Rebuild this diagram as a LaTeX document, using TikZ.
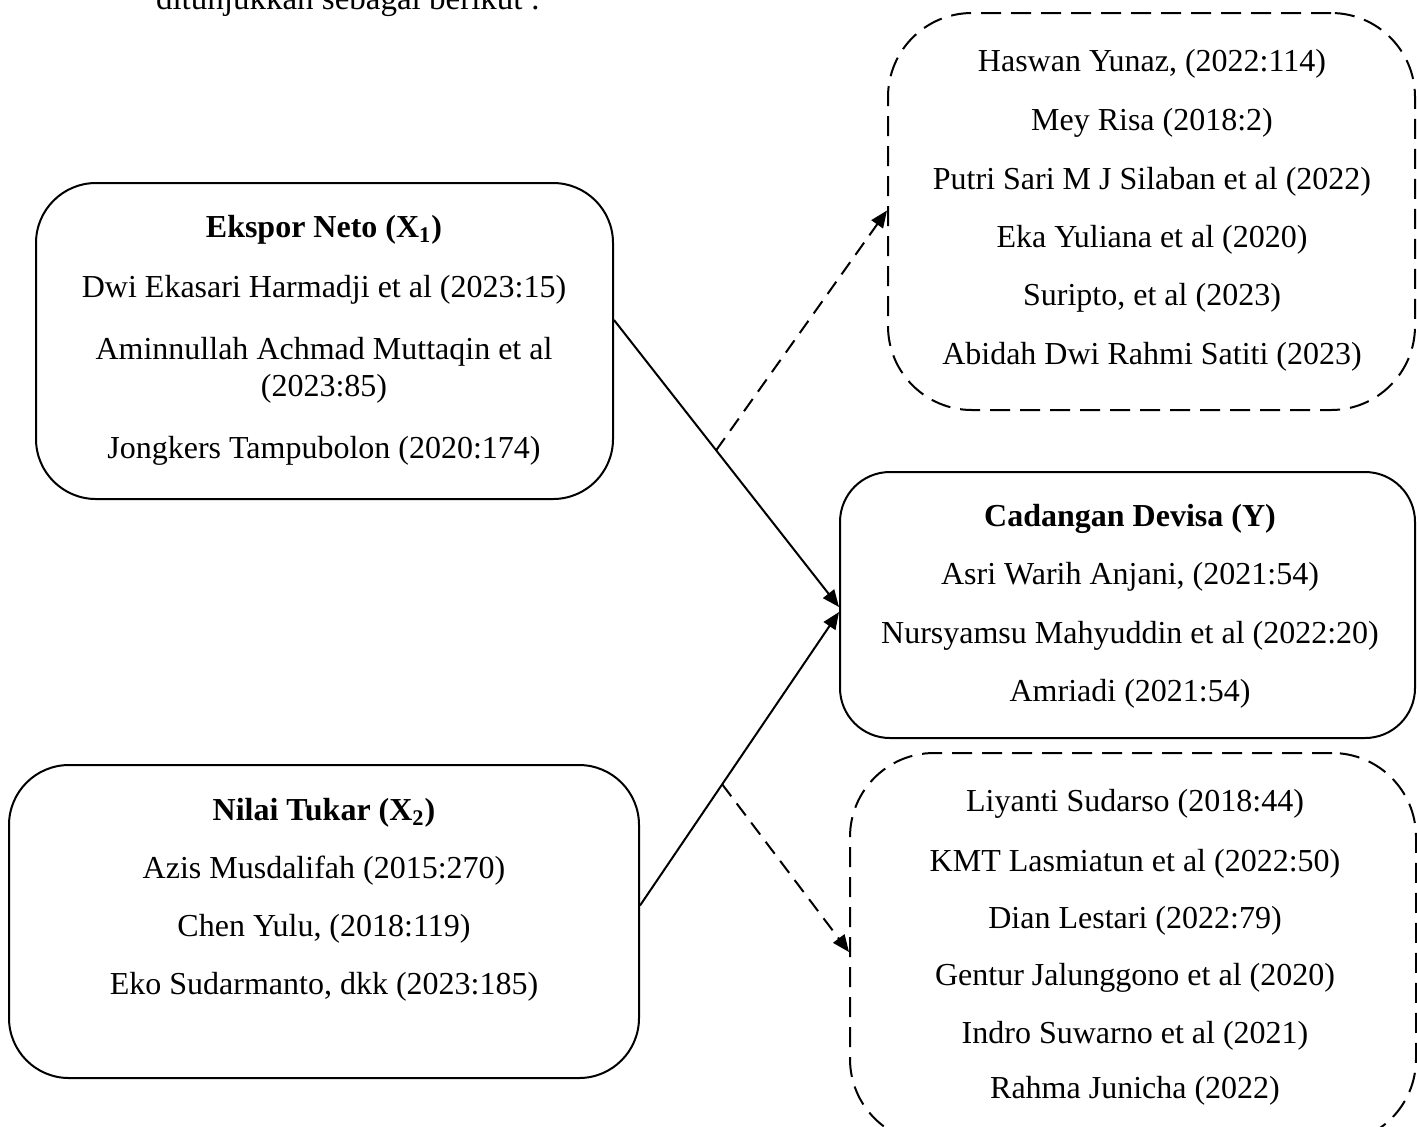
\documentclass[tikz,border=0pt]{standalone}
\usepackage{fontspec}
\setmainfont{Liberation Serif}
\usetikzlibrary{arrows.meta}
\begin{document}
\begin{tikzpicture}[x=0.5pt,y=-0.5pt,
  every node/.style={font=\fontsize{16pt}{19pt}\selectfont, inner sep=0pt},
  solidbox/.style={draw, line width=1pt, rounded corners=30pt},
  dashbox/.style={draw, line width=1pt, rounded corners=42pt, dash pattern=on 10pt off 5pt},
  txt/.style={anchor=center},
  conn/.style={line width=1pt, -{Triangle[length=8.5pt,width=7pt]}},
  dconn/.style={conn, dash pattern=on 7.5pt off 4.5pt}
]
\useasboundingbox (0,0) rectangle (1417,1126);
\node[anchor=base, font=\fontsize{16.5pt}{19pt}\selectfont] (cap) at (348,9) {ditunjukkan sebagai berikut :};

% boxes
\node[solidbox, minimum width=288.5pt, minimum height=158pt] (x1) at (324.5,341) {};
\node[solidbox, minimum width=315pt, minimum height=156.5pt] (x2) at (324,921.5) {};
\node[solidbox, rounded corners=25pt, minimum width=287.5pt, minimum height=133pt] (y) at (1127.5,605) {};
\node[dashbox, minimum width=263.5pt, minimum height=198.5pt] (top) at (1151.5,211.5) {};
\node[dashbox, minimum width=283pt, minimum height=195pt] (bot) at (1133,948) {};

% X1 text
\node[txt] (x1a) at (324,230) {\textbf{Ekspor Neto (X\textsubscript{1})}};
\node[txt] (x1b) at (324,290) {Dwi Ekasari Harmadji et al (2023:15)};
\node[txt] (x1c) at (324,352) {Aminnullah Achmad Muttaqin et al};
\node[txt] (x1d) at (324,389) {(2023:85)};
\node[txt] (x1e) at (324,451) {Jongkers Tampubolon (2020:174)};

% X2 text
\node[txt] (x2a) at (324,813) {\textbf{Nilai Tukar (X\textsubscript{2})}};
\node[txt] (x2b) at (324,871) {Azis Musdalifah (2015:270)};
\node[txt] (x2c) at (324,929) {Chen Yulu, (2018:119)};
\node[txt] (x2d) at (324,987) {Eko Sudarmanto, dkk (2023:185)};

% Y text
\node[txt] (ya) at (1130,519) {\textbf{Cadangan Devisa (Y)}};
\node[txt] (yb) at (1130,577) {Asri Warih Anjani, (2021:54)};
\node[txt] (yc) at (1130,636) {Nursyamsu Mahyuddin et al (2022:20)};
\node[txt] (yd) at (1130,694) {Amriadi (2021:54)};

% top dashed text
\node[txt] (ta) at (1152,64) {Haswan Yunaz, (2022:114)};
\node[txt] (tb) at (1152,123) {Mey Risa (2018:2)};
\node[txt] (tc) at (1152,182) {Putri Sari M J Silaban et al (2022)};
\node[txt] (td) at (1152,240) {Eka Yuliana et al (2020)};
\node[txt] (te) at (1152,298) {Suripto, et al (2023)};
\node[txt] (tf) at (1152,357) {Abidah Dwi Rahmi Satiti (2023)};

% bottom dashed text
\node[txt] (ba) at (1135,804) {Liyanti Sudarso (2018:44)};
\node[txt] (bb) at (1135,864) {KMT Lasmiatun et al (2022:50)};
\node[txt] (bc) at (1135,921) {Dian Lestari (2022:79)};
\node[txt] (bd) at (1135,978) {Gentur Jalunggono et al (2020)};
\node[txt] (be) at (1135,1036) {Indro Suwarno et al (2021)};
\node[txt] (bf) at (1135,1091) {Rahma Junicha (2022)};

% connectors
\draw[conn] ([yshift=10.5pt]x1.east) -- coordinate[pos=0.454] (m1) ([yshift=-1pt]y.west);
\draw[conn] ([yshift=8pt]x2.east) -- coordinate[pos=0.413] (m2) ([yshift=-3.5pt]y.west);
\draw[dconn] (m1) -- ([yshift=0.5pt]top.west);
\draw[dconn] (m2) -- ([yshift=-2pt]bot.west);
\end{tikzpicture}
\end{document}
